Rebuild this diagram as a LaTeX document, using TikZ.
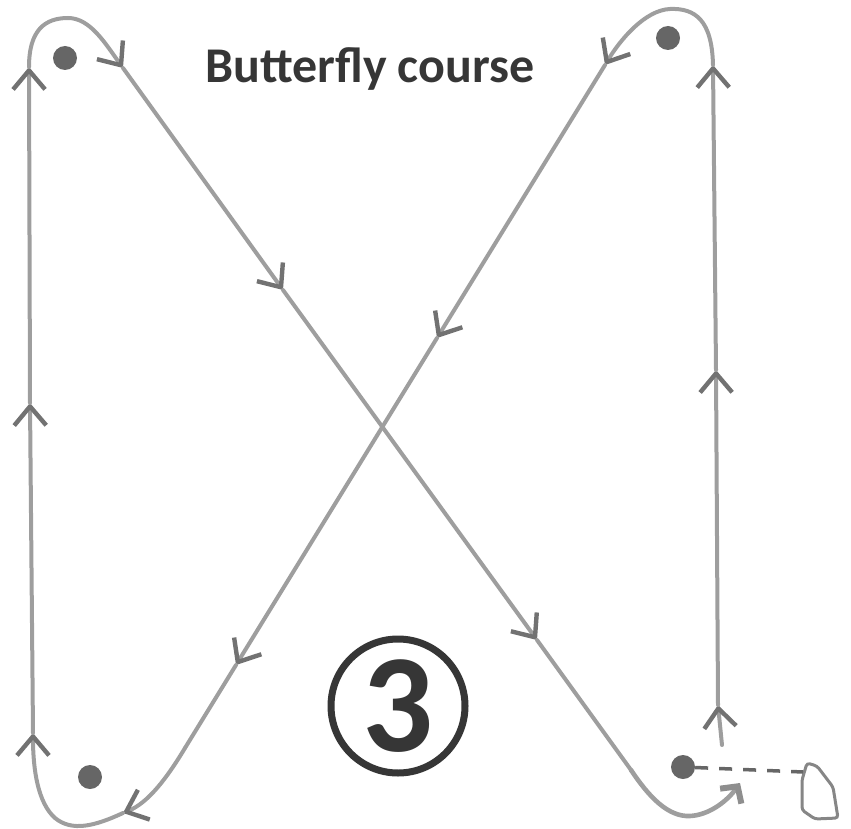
\documentclass[tikz,border=0pt]{standalone}
\usepackage{fontspec}
\setmainfont{Carlito}
\usepackage{xcolor}
\usepackage{tikz}
\usetikzlibrary{arrows.meta}
\definecolor{PencilGray}{HTML}{9E9E9E}
\definecolor{BarbGray}{HTML}{727272}
\definecolor{DotGray}{HTML}{666666}
\definecolor{InkGray}{HTML}{363636}

\begin{document}
\begin{tikzpicture}[x=1pt, y=-1pt,
  course/.style={draw=PencilGray, line width=4pt, line cap=round},
  carrow/.style={course, -{Straight Barb[length=19pt, width=32pt, line width=4.4pt, color=BarbGray]}},
  farrow/.style={course, line width=4.6pt, -{Straight Barb[length=12pt, width=26pt, line width=6pt, color=PencilGray!90!black]}},
  buoy/.style={circle, fill=DotGray, minimum size=24pt, inner sep=0pt},
  title/.style={font=\fontsize{50}{56}\selectfont\bfseries, text=InkGray, anchor=base},
  numring/.style={circle, draw=InkGray, line width=7pt, minimum size=134pt, inner sep=0pt, font=\fontsize{140}{140}\selectfont\bfseries, text=InkGray},
  boat/.style={draw=PencilGray!85!black, line width=3pt, rounded corners=3pt},
  startline/.style={draw=DotGray, line width=3.5pt, dash pattern=on 13pt off 11pt}
]
\useasboundingbox (0,0) rectangle (851,829);

% marks, title, number
\node[buoy] (tl) at (65,58) {};
\node[buoy] (tr) at (668,38) {};
\node[buoy] (bl) at (90,777) {};
\node[buoy] (br) at (683,767) {};
\node[title] (ttl) at (370,83) {Butterfly course};
\node[numring] (num) at (398,706) {3};

% course points
\coordinate (r0) at (722,745);
\coordinate (r1) at (718,705);
\coordinate (r2) at (716,370);
\coordinate (r3) at (713,65);
\coordinate (d0) at (605,65);
\coordinate (d1) at (437,338);
\coordinate (d2) at (236,665);
\coordinate (d3) at (185,748);
\coordinate (d4) at (123,813);
\coordinate (l0) at (33,733);
\coordinate (l1) at (30,403);
\coordinate (l2) at (29,67);
\coordinate (e0) at (123,68);
\coordinate (e1) at (283,290);
\coordinate (e2) at (537,640);
\coordinate (e3) at (631,770);
\coordinate (fin) at (740,783);

% up the right side
\draw[carrow] (r0) -- (r1);
\draw[carrow] (r1) -- (r2);
\draw[carrow] (r2) -- (r3);
\draw[carrow] (r3) .. controls (712,20) and (695,8) .. (670,9) .. controls (645,10) and (620,40) .. (d0);
% first diagonal
\draw[carrow] (d0) -- (d1);
\draw[carrow] (d1) -- (d2);
\draw[course] (d2) -- (d3);
\draw[carrow] (d3) .. controls (167,778) and (148,803) .. (d4);
\draw[carrow] (d4) .. controls (95,826) and (72,832) .. (55,818) .. controls (38,803) and (33,770) .. (l0);
% up the left side
\draw[carrow] (l0) -- (l1);
\draw[carrow] (l1) -- (l2);
\draw[carrow] (l2) .. controls (29,30) and (45,18) .. (68,18) .. controls (90,18) and (105,43) .. (e0);
% second diagonal to the finish
\draw[carrow] (e0) -- (e1);
\draw[carrow] (e1) -- (e2);
\draw[course] (e2) -- (e3);
\draw[farrow] (e3) .. controls (649,797) and (668,817) .. (690,816) .. controls (710,815) and (728,800) .. (fin);

% start line and committee boat
\coordinate (bow) at (803,772);
\draw[boat] (807,763) -- (817,766) -- (833,787) -- (838,818) -- (815,819) -- (802,810) -- (802,780) -- cycle;
\draw[startline] (br) -- (bow);
\end{tikzpicture}
\end{document}
